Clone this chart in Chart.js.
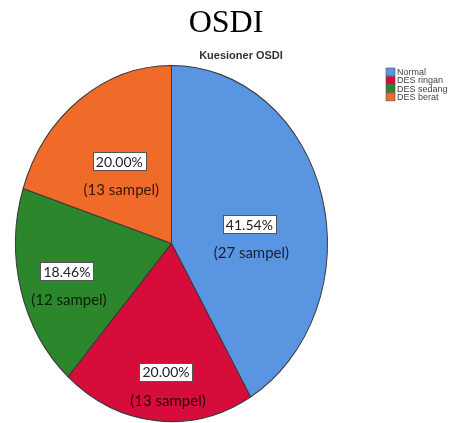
<!DOCTYPE html>
<html>
<head>
<meta charset="utf-8">
<script src="https://cdn.jsdelivr.net/npm/chart.js@4/dist/chart.umd.min.js"></script>
<style>
  html, body { margin: 0; padding: 0; background: #fff; }
  canvas { display: block; }
</style>
</head>
<body>
<canvas id="osdiChart" width="453" height="423"></canvas>
<script>
// data
const categories = ['Normal', 'DES ringan', 'DES sedang', 'DES berat'];
const samples = [27, 13, 12, 13];
const sliceColors = ['#5a95e2', '#d60c3b', '#2c862c', '#f06a2a'];

// where each label sits: fraction of radius, and a small turn off the mid angle (deg)
const labelRadius = [0.5, 0.8, 0.71, 0.51];
const labelTurn = [12, -3, -4, -5];

// the original pie is stretched vertically
const stretch = 178 / 156;

const total = samples.reduce((a, b) => a + b, 0);

// draw arcs squashed into an ellipse
const ellipsePlugin = {
    id: 'ellipse',
    beforeDatasetsDraw(chart) {
        const arc = chart.getDatasetMeta(0).data[0];
        const ctx = chart.ctx;
        ctx.save();
        ctx.translate(arc.x, arc.y);
        ctx.scale(1, stretch);
        ctx.translate(-arc.x, -arc.y);
    },
    afterDatasetsDraw(chart) {
        chart.ctx.restore();
    }
};

// percent boxes + sample counts
const sliceLabels = {
    id: 'sliceLabels',
    afterDraw(chart) {
        const ctx = chart.ctx;
        const arcs = chart.getDatasetMeta(0).data;
        ctx.save();
        arcs.forEach((arc, i) => {
            const mid = (arc.startAngle + arc.endAngle) / 2 + labelTurn[i] * Math.PI / 180;
            const r = arc.outerRadius * labelRadius[i];
            const px = arc.x + Math.cos(mid) * r;
            const py = arc.y + Math.sin(mid) * r * stretch;

            const pct = (samples[i] / total * 100).toFixed(2) + '%';
            ctx.font = '14px Lato, "Liberation Sans", sans-serif';
            ctx.textAlign = 'center';
            ctx.textBaseline = 'middle';
            const w = ctx.measureText(pct).width + 6;
            const h = 18;
            const by = py - 14;
            ctx.fillStyle = '#ffffff';
            ctx.fillRect(Math.round(px - w / 2) + 0.5, Math.round(by - h / 2) + 0.5, Math.round(w), h);
            ctx.strokeStyle = '#555555';
            ctx.lineWidth = 1;
            ctx.strokeRect(Math.round(px - w / 2) + 0.5, Math.round(by - h / 2) + 0.5, Math.round(w), h);
            ctx.fillStyle = '#222222';
            ctx.fillText(pct, px, by + 1);

            ctx.font = '15px Lato, "Liberation Sans", sans-serif';
            ctx.fillStyle = 'rgba(0,0,0,0.78)';
            ctx.fillText('(' + samples[i] + ' sampel)', px + 2, py + 15);
        });
        ctx.restore();
    }
};

// headings and the small legend on the right
const headings = {
    id: 'headings',
    afterDraw(chart) {
        const ctx = chart.ctx;
        ctx.save();
        ctx.textAlign = 'center';
        ctx.textBaseline = 'alphabetic';
        ctx.fillStyle = '#000000';
        ctx.font = '32px "Liberation Serif", "DejaVu Serif", serif';
        ctx.fillText('OSDI', 226, 32);

        ctx.fillStyle = '#333333';
        ctx.font = 'bold 11px "Liberation Sans", sans-serif';
        ctx.textBaseline = 'middle';
        ctx.fillText('Kuesioner OSDI', 241, 56);

        ctx.textAlign = 'left';
        ctx.font = '9px "Liberation Sans Narrow", "Liberation Sans", sans-serif';
        categories.forEach((c, i) => {
            const y = 72 + i * 8.3;
            ctx.fillStyle = sliceColors[i];
            ctx.fillRect(386, y - 4, 9, 8);
            ctx.strokeStyle = '#555555';
            ctx.lineWidth = 0.6;
            ctx.strokeRect(386, y - 4, 9, 8);
            ctx.fillStyle = '#444444';
            ctx.fillText(c, 397, y + 0.5);
        });
        ctx.restore();
    }
};

new Chart(document.getElementById('osdiChart'), {
    type: 'pie',
    data: {
        labels: categories,
        datasets: [{
            data: samples,
            backgroundColor: sliceColors,
            borderColor: '#3a3a3a',
            borderWidth: 1,
            clip: false
        }]
    },
    options: {
        responsive: false,
        animation: false,
        devicePixelRatio: 1,
        layout: { padding: { left: 15, right: 125, top: 87, bottom: 23 } },
        plugins: {
            legend: { display: false },
            title: { display: false },
            tooltip: { enabled: false }
        }
    },
    plugins: [ellipsePlugin, sliceLabels, headings]
});
</script>
</body>
</html>
